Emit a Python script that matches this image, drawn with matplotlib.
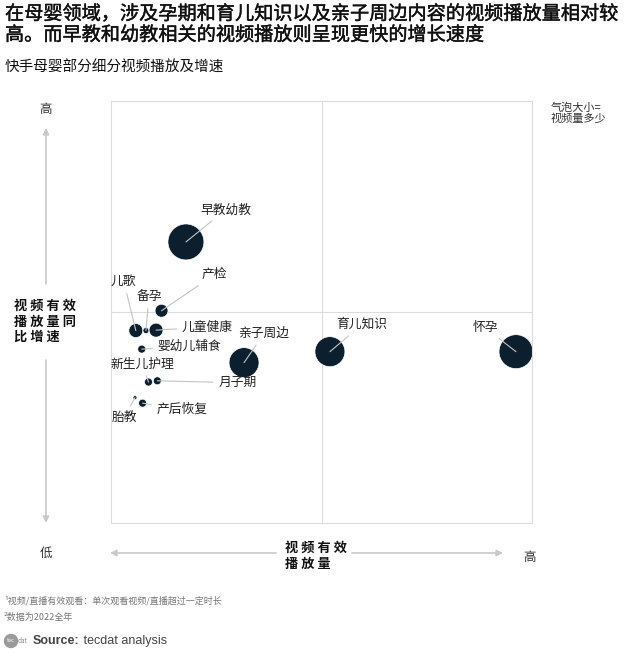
import matplotlib
matplotlib.use("Agg")
import matplotlib.pyplot as plt
import matplotlib.patheffects as pe
from matplotlib.patches import Circle

plt.rcParams['font.family'] = ['Noto Sans CJK SC', 'DejaVu Sans']

# Data: position on a 0-100 scale (x: video plays, y: YoY growth), bubble = video volume
categories = ["早教幼教", "产检", "儿歌", "备孕", "儿童健康", "婴幼儿辅食", "亲子周边",
              "新生儿护理", "月子期", "胎教", "产后恢复", "育儿知识", "怀孕"]
plays = [17.8, 12.0, 5.9, 8.3, 10.7, 7.3, 31.6, 8.9, 11.0, 5.7, 7.5, 52.0, 96.2]
growth = [66.6, 50.3, 45.6, 45.6, 45.7, 41.2, 38.0, 33.4, 33.7, 29.7, 28.4, 40.6, 40.6]
volume = [324, 42, 49, 9, 49, 16, 225, 16, 16, 4, 16, 225, 289]

# label offsets in pixels from bubble centre, and alignment
label_pos = {
    "早教幼教": (14, 32, "left"),
    "产检": (40, 36, "left"),
    "儿歌": (-12, 49, "center"),
    "备孕": (3, 34, "center"),
    "儿童健康": (26, 3, "left"),
    "婴幼儿辅食": (16, 3, "left"),
    "亲子周边": (20, 29, "center"),
    "新生儿护理": (-6, 18, "center"),
    "月子期": (61, -2, "left"),
    "胎教": (-11, -20, "center"),
    "产后恢复": (14, -6, "left"),
    "育儿知识": (32, 27, "center"),
    "怀孕": (-31, 24, "center"),
}

W, H = 640, 652
fig = plt.figure(figsize=(W / 100, H / 100), dpi=100)

ax = fig.add_axes([111 / W, 1 - 523 / H, 421 / W, 422 / H])
ax.set_xlim(0, 100)
ax.set_ylim(0, 100)
ax.set_xticks([])
ax.set_yticks([])
for s in ax.spines.values():
    s.set_color("#dcdcdc")
    s.set_linewidth(0.8)
ax.axvline(50, color="#dcdcdc", lw=0.8, zorder=0)
ax.axhline(50, color="#dcdcdc", lw=0.8, zorder=0)

sizes = [v * 2.07 for v in volume]
ax.scatter(plays, growth, s=sizes, color="#0b1f2e", edgecolor="white", linewidth=0.5,
           zorder=2, clip_on=False)

for name, x, y in zip(categories, plays, growth):
    dx, dy, ha = label_pos[name]
    ax.annotate(name, xy=(x, y), xytext=(dx, dy), textcoords="offset pixels",
                ha=ha, va="center", fontsize=9.2, color="#222222",
                arrowprops=dict(arrowstyle="-", color="#c4c4c4", lw=0.8,
                                shrinkA=2, shrinkB=0),
                zorder=3)

# overlay in pixel coordinates for titles, arrows, notes
ov = fig.add_axes([0, 0, 1, 1], zorder=-1)
ov.set_xlim(0, W)
ov.set_ylim(H, 0)
ov.axis("off")

thick = [pe.withStroke(linewidth=0.3, foreground="#111111")]
ov.text(5, 14, "在母婴领域，涉及孕期和育儿知识以及亲子周边内容的视频播放量相对较",
        fontsize=13.8, va="center", color="#111111", path_effects=thick)
ov.text(5, 35, "高。而早教和幼教相关的视频播放则呈现更快的增长速度",
        fontsize=13.8, va="center", color="#111111", path_effects=thick)
ov.text(5, 68, "快手母婴部分细分视频播放及增速", fontsize=10.5, va="center", color="#111111")

ov.text(551, 103, "气泡大小=\n视频量多少", fontsize=8, va="top", ha="left",
        color="#333333", linespacing=1.0)

arrow_kw = dict(arrowstyle="-|>", color="#c8c8c8", lw=1.2, mutation_scale=9,
                shrinkA=0, shrinkB=0)
# vertical axis arrows
ov.text(46, 109, "高", fontsize=9, ha="center", va="center", color="#333333")
ov.annotate("", xy=(46, 128), xytext=(46, 284), arrowprops=arrow_kw)
ov.annotate("", xy=(46, 523), xytext=(46, 360), arrowprops=arrow_kw)
ov.text(46, 553, "低", fontsize=9, ha="center", va="center", color="#333333")
for i, row in enumerate(["视 频 有 效", "播 放 量 同", "比 增 速"]):
    ov.text(14, 306 + i * 15.5, row, fontsize=9.5, fontweight="bold", ha="left",
            va="center", color="#111111")

# horizontal axis arrows
ov.annotate("", xy=(110, 553), xytext=(276, 553), arrowprops=arrow_kw)
ov.annotate("", xy=(503, 553), xytext=(352, 553), arrowprops=arrow_kw)
ov.text(530, 557, "高", fontsize=9, ha="center", va="center", color="#333333")
ov.text(285, 548, "视 频 有 效", fontsize=9.5, fontweight="bold", ha="left",
        va="center", color="#111111")
ov.text(285, 564, "播 放 量", fontsize=9.5, fontweight="bold", ha="left",
        va="center", color="#111111")

ov.text(4, 601, "¹视频/直播有效观看：单次观看视频/直播超过一定时长", fontsize=6.5,
        va="center", color="#777777")
ov.text(4, 617, "²数据为2022全年", fontsize=6.5, va="center", color="#777777")

ov.add_patch(Circle((11, 641), 6.5, color="#9a9a9a"))
ov.text(11, 641, "tec", fontsize=4, color="white", ha="center", va="center")
ov.text(18, 641, "dat", fontsize=4.5, color="#888888", ha="left", va="center")
src = ov.text(33, 641, "Source:", fontsize=9, fontweight="bold", family="Liberation Sans",
              color="#444444", va="center")
ov.annotate(" tecdat analysis", xy=(1, 0.5), xycoords=src, fontsize=9,
            family="Liberation Sans", color="#444444", va="center", ha="left")

fig.savefig("out.png", dpi=100)
